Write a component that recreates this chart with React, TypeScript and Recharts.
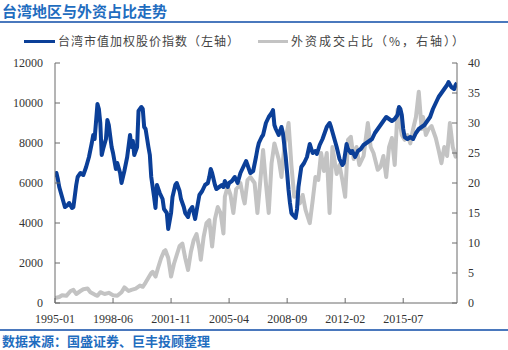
import React from 'react';
import { LineChart, Line, XAxis, YAxis } from 'recharts';

// months counted from 1995-01
const xTickMonths = [0, 41, 82, 123, 164, 205, 246];
const xTickLabels = ['1995-01', '1998-06', '2001-11', '2005-04', '2008-09', '2012-02', '2015-07'];
const leftTicks = [0, 2000, 4000, 6000, 8000, 10000, 12000];
const rightTicks = [0, 5, 10, 15, 20, 25, 30, 35, 40];

const indexMonths = [
  0, 1, 2, 3, 5, 7, 9, 10, 12, 13, 15, 16, 18, 20, 22, 24, 26, 27, 28, 30, 31, 32, 33, 34, 36, 37, 38, 40, 41, 43,
  44, 46, 47, 49, 51, 53, 54, 55, 56, 58, 59, 61, 62, 63, 64, 66, 67, 68, 70, 71, 72, 74, 76, 77, 79, 80, 82, 83, 85, 86,
  88, 89, 91, 92, 93, 94, 95, 97, 98, 99, 100, 102, 104, 106, 108, 109, 110, 111, 113, 114, 116, 118, 119, 120, 122, 123, 125, 127, 129, 131,
  133, 135, 136, 138, 140, 142, 143, 144, 146, 147, 149, 151, 153, 154, 155, 156, 158, 160, 161, 162, 163, 164, 165, 166, 167, 168, 170, 171, 172, 173,
  174, 176, 178, 180, 182, 184, 185, 187, 189, 191, 192, 194, 195, 197, 199, 201, 203, 204, 206, 207, 209, 210, 212, 214, 216, 218, 220, 222, 224, 226,
  228, 230, 232, 234, 236, 238, 240, 242, 243, 244, 245, 246, 247, 249, 251, 253, 255, 257, 259, 261, 263, 265, 267, 269, 271, 273, 275, 277, 278, 280,
  282, 283, 284,
];
const indexValues = [
  6300, 6500, 6200, 5800, 5300, 4800, 4900, 5000, 4750, 4800, 5900, 6300, 6500, 6400, 6800, 7300, 8000, 8400, 8200, 9950, 9700, 9000, 7400, 7700, 8200, 9150, 8900, 7800, 7500, 6700,
  7000, 6500, 6000, 6600, 7300, 8400, 7800, 8100, 7400, 7800, 9600, 9800, 9700, 8800, 8700, 7800, 7400, 6300, 5300, 4750, 5900, 5500, 5200, 4700, 4500, 3700, 4500, 5300, 5900, 6000,
  5600, 5200, 4800, 4500, 4400, 4300, 4600, 4800, 4500, 4200, 4600, 5400, 5600, 5900, 6000, 6300, 6700, 6500, 5900, 5700, 5800, 5900, 5800, 6100, 5800, 6000, 6100, 6300, 6000, 6500,
  6800, 7100, 6900, 6500, 6600, 7300, 7700, 8000, 8300, 8400, 9000, 9300, 9500, 9650, 8900, 8700, 8400, 8800, 8500, 7900, 7300, 6500, 5650, 5000, 4500, 4400, 4250, 4700, 5800, 6300,
  6800, 7000, 7300, 7950, 7500, 7600, 7450, 7900, 8200, 8600, 8800, 9000, 8800, 8300, 7800, 7200, 6900, 7000, 7950, 7700, 7500, 7600, 7300, 7600, 7700, 7900, 8000, 8100, 8200, 8500,
  8700, 8900, 9100, 9300, 9200, 9100, 9200, 9400, 9800, 9700, 9400, 8700, 8300, 8200, 8300, 8200, 8500, 8700, 8800, 8900, 9100, 9300, 9700, 10000, 10300, 10500, 10700, 10900, 11050, 10800,
  10700, 10900, 11000,
];

const shareMonths = [
  0, 3, 5, 8, 11, 13, 15, 18, 20, 23, 25, 28, 30, 32, 35, 38, 41, 44, 47, 49, 52, 54, 57, 60, 62, 64, 66, 68, 69, 71,
  73, 75, 77, 78, 80, 82, 84, 86, 88, 90, 92, 94, 96, 98, 100, 102, 103, 105, 107, 109, 111, 113, 115, 117, 119, 120, 122, 124, 126, 128,
  130, 131, 133, 134, 136, 138, 141, 143, 147, 149, 151, 153, 155, 158, 160, 162, 165, 167, 169, 171, 173, 175, 177, 180, 182, 184, 186, 188, 190, 192,
  194, 196, 199, 201, 203, 205, 207, 209, 211, 213, 215, 218, 221, 223, 225, 228, 230, 232, 234, 236, 238, 240, 242, 245, 247, 249, 251, 253, 255, 257,
  259, 260, 262, 264, 266, 269, 271, 273, 275, 277, 279, 281, 283, 284,
];
const shareValues = [
  0.8, 1.0, 1.3, 1.2, 2.0, 2.2, 1.5, 2.0, 2.3, 2.4, 1.8, 1.4, 1.2, 1.8, 1.5, 1.7, 1.3, 1.2, 1.8, 2.6, 2.0, 2.2, 2.4, 2.9, 2.7, 3.4, 4.2, 5.0, 5.2, 4.4,
  6.0, 7.5, 8.6, 8.8, 7.5, 4.4, 6.5, 8.0, 9.5, 9.9, 7.5, 5.5, 8.5, 10.5, 11.5, 9.0, 7.2, 11.0, 13.3, 13.8, 9.4, 14.0, 16.0, 15.0, 11.6, 17.7, 19.4, 18.0, 15.0, 19.0,
  19.5, 20.0, 17.5, 16.6, 20.5, 21.0, 20.0, 15.0, 25.5, 20.0, 15.0, 23.3, 26.6, 24.0, 21.0, 26.0, 30.0, 23.0, 17.7, 18.5, 16.6, 18.0, 15.5, 13.3, 17.0, 21.0, 20.5, 25.0, 22.0, 25.0,
  15.0, 26.0, 21.5, 23.0, 20.5, 17.7, 27.2, 27.7, 24.0, 26.0, 23.0, 24.5, 30.0, 26.0, 25.0, 22.2, 22.7, 24.5, 21.0, 26.0, 27.5, 23.0, 32.2, 28.0, 27.2, 28.0, 26.6, 29.0, 31.0, 35.2,
  29.0, 31.0, 28.0, 29.0, 29.5, 27.5, 25.5, 23.3, 26.0, 24.5, 30.0, 26.0, 24.4, 25.0,
];

const indexData = indexMonths.map((m, i) => ({ m, v: indexValues[i] }));
const shareData = shareMonths.map((m, i) => ({ m, v: shareValues[i] }));

const BLUE = '#0b3f98';
const GRAY = '#c3c3c3';
const AXIS = '#6a6a6a';
const HEAD = '#1f6dbf';
const tickFont = { fontFamily: '"Liberation Serif", serif', fontSize: 12, fill: '#333' };

const LeftTick = ({ x, y, payload }: any) => (
  <g>
    <line x1={x + 12} x2={x + 17} y1={y} y2={y} stroke={AXIS} />
    <text x={x} y={y} dy={4} textAnchor="end" {...tickFont}>{payload.value}</text>
  </g>
);

const RightTick = ({ x, y, payload }: any) => (
  <g>
    <line x1={x - 11} x2={x - 16} y1={y} y2={y} stroke={AXIS} />
    <text x={x} y={y} dy={4} textAnchor="start" {...tickFont}>{payload.value}</text>
  </g>
);

const BottomTick = ({ x, y, payload }: any) => {
  const i = xTickMonths.indexOf(payload.value);
  return (
    <g>
      <line x1={x} x2={x} y1={y - 4} y2={y - 9} stroke={AXIS} />
      <text x={x} y={y} dy={16} textAnchor="middle" {...tickFont}>{xTickLabels[i]}</text>
    </g>
  );
};

const cjk = '"Noto Sans CJK SC", sans-serif';

export default function App() {
  return (
    <div style={{ position: 'absolute', left: 0, top: 0, width: 508, height: 350, background: '#fff', overflow: 'hidden' }}>
      <div style={{ position: 'absolute', left: 2, top: 2, fontFamily: cjk, fontWeight: 700, fontSize: 15, lineHeight: '18px', color: HEAD }}>
        台湾地区与外资占比走势
      </div>
      <div style={{ position: 'absolute', left: 0, top: 21, width: 508, height: 2, background: '#4a78bd' }} />

      <LineChart
        width={508}
        height={330}
        margin={{ top: 63, right: 6, left: 0, bottom: 5 }}
        style={{ position: 'absolute', left: 0, top: 0 }}
      >
        <XAxis
          dataKey="m"
          type="number"
          domain={[0, 284]}
          ticks={xTickMonths}
          allowDataOverflow
          height={22}
          tickSize={0}
          tickMargin={4}
          tickLine={false}
          axisLine={{ stroke: AXIS }}
          tick={<BottomTick />}
        />
        <YAxis
          yAxisId="left"
          domain={[0, 12000]}
          ticks={leftTicks}
          width={55}
          tickSize={0}
          tickMargin={12}
          tickLine={false}
          axisLine={{ stroke: AXIS }}
          tick={<LeftTick />}
        />
        <YAxis
          yAxisId="right"
          orientation="right"
          domain={[0, 40]}
          ticks={rightTicks}
          width={45}
          tickSize={0}
          tickMargin={11}
          tickLine={false}
          axisLine={{ stroke: AXIS }}
          tick={<RightTick />}
        />
        <Line
          yAxisId="right"
          data={shareData}
          dataKey="v"
          type="linear"
          stroke={GRAY}
          strokeWidth={4}
          dot={false}
          strokeLinejoin="round"
          isAnimationActive={false}
        />
        <Line
          yAxisId="left"
          data={indexData}
          dataKey="v"
          type="linear"
          stroke={BLUE}
          strokeWidth={4}
          dot={false}
          strokeLinejoin="round"
          isAnimationActive={false}
        />
      </LineChart>

      {/* legend */}
      <div style={{ position: 'absolute', left: 24, top: 40, width: 31, height: 3, background: BLUE }} />
      <div style={{ position: 'absolute', left: 58, top: 33, fontFamily: cjk, fontSize: 12, letterSpacing: 1, lineHeight: '16px', color: '#444' }}>
        台湾市值加权股价指数（左轴）
      </div>
      <div style={{ position: 'absolute', left: 258, top: 40, width: 30, height: 3, background: GRAY }} />
      <div style={{ position: 'absolute', left: 291, top: 33, fontFamily: cjk, fontSize: 12, letterSpacing: 2, lineHeight: '16px', color: '#444' }}>
        外资成交占比（%，右轴））
      </div>

      <div style={{ position: 'absolute', left: 0, top: 329, width: 508, height: 2, background: '#4a78bd' }} />
      <div style={{ position: 'absolute', left: 2, top: 333, fontFamily: cjk, fontWeight: 700, fontSize: 13, lineHeight: '16px', color: HEAD }}>
        数据来源：国盛证券、巨丰投顾整理
      </div>
    </div>
  );
}
